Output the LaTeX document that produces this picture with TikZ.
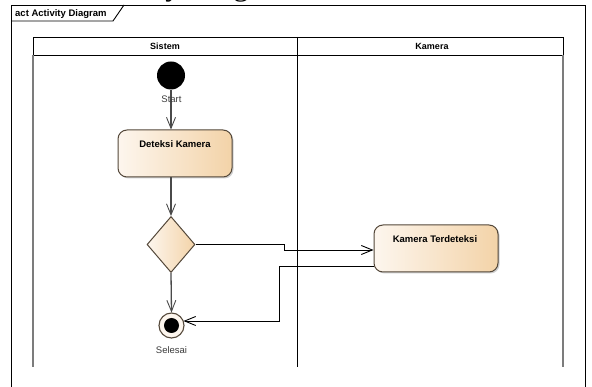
\documentclass[tikz,border=0pt]{standalone}
\usepackage{fontspec}
\setmainfont{Liberation Sans}
\newfontfamily\captionserif{Liberation Serif}
\usetikzlibrary{arrows.meta,shapes.geometric,shadows}

\definecolor{actlight}{HTML}{FDF6EE}
\definecolor{acttan}{HTML}{F3D3A8}
\definecolor{actedge}{HTML}{54483A}
\definecolor{lanegray}{HTML}{7C7C7C}
\definecolor{flowgray}{HTML}{4A4A4A}
\definecolor{labelgray}{HTML}{3C3C3C}

\tikzset{
  uml/.style={font=\fontsize{9.5}{11}\selectfont},
  action/.style={rectangle, rounded corners=9pt, draw=actedge, line width=1pt,
    left color=actlight, right color=acttan, inner sep=0pt,
    drop shadow={shadow xshift=1.5pt, shadow yshift=-1.5pt, opacity=0.3, fill=black!60}},
  actiontext/.style={uml, font=\bfseries\fontsize{9.5}{11}\selectfont, inner sep=0pt},
  decision/.style={diamond, draw=actedge, line width=1pt, left color=actlight,
    right color=acttan, inner sep=0pt, minimum width=48pt, minimum height=56pt},
  startnode/.style={circle, fill=black, inner sep=0pt, minimum size=28pt},
  endring/.style={circle, draw=actedge, line width=1.1pt, fill=actlight, inner sep=0pt,
    minimum size=25pt},
  enddot/.style={circle, fill=black, inner sep=0pt, minimum size=15pt},
  nodelabel/.style={uml, text=labelgray, inner sep=0pt},
  lanehead/.style={font=\bfseries\fontsize{9}{10}\selectfont, inner sep=0pt},
  opentip/.style={-{Straight Barb[length=11pt, width=9pt, line width=0.9pt]}},
  flowv/.style={opentip, draw=flowgray, line width=1.3pt},
  flowx/.style={opentip, draw=black, line width=0.9pt},
}

\begin{document}
\begin{tikzpicture}[x=1pt, y=-1pt]
  \useasboundingbox (0,0) rectangle (592,387);
  \fill[white] (0,0) rectangle (592,387);

  % caption line above the frame, mostly cut off by the page edge
  \node[anchor=base west, inner sep=0pt, font=\captionserif\fontsize{31}{34}\selectfont]
    (caption) at (79,-4) {Activity Diagram};

  % diagram frame and its name tab
  \draw[black, line width=0.9pt] (11,395) -- (11,5) -- (585,5) -- (585,395);
  \draw[black, line width=0.9pt] (11,21) -- (113,21) -- (124,5);
  \node[anchor=base west, font=\bfseries\fontsize{9.5}{11}\selectfont, inner sep=0pt]
    (frametitle) at (15,17) {act Activity Diagram};

  % swimlanes
  \draw[black, line width=0.9pt] (33,37) rectangle (563,55);
  \draw[black, line width=0.9pt] (297.5,37) -- (297.5,367);
  \draw[lanegray, line width=1.6pt] (33,55) -- (33,367);
  \draw[lanegray, line width=1.6pt] (563,55) -- (563,367);
  \node[lanehead] (laneSistem) at (165,46.5) {Sistem};
  \node[lanehead] (laneKamera) at (432,46.5) {Kamera};

  % initial node
  \node[startnode] (start) at (171,75.5) {};

  % actions
  \node[action, minimum width=114pt, minimum height=47pt] (deteksi) at (175,153.5) {};
  \node[actiontext] (deteksiText) at (175,144.5) {Deteksi Kamera};
  \node[action, minimum width=124pt, minimum height=47pt] (kamera) at (436,248.5) {};
  \node[actiontext] (kameraText) at (435,239.5) {Kamera Terdeteksi};

  % decision
  \node[decision] (cek) at (171,244.5) {};

  % final node
  \node[endring] (selesai) at (171.5,325.5) {};
  \node[enddot] (selesaiDot) at (171.5,325.5) {};

  % connectors
  \coordinate (toKamera) at (284,250);
  \coordinate (fromKamera) at (279,266);
  \coordinate (intoFinal) at (183.5,321);
  \draw[flowv] (start.south) -- (start.south |- deteksi.north);
  \node[nodelabel] (startText) at (171.5,99) {Start};
  \draw[flowv] (cek.north |- deteksi.south) -- (cek.north);
  \draw[flowv] (cek.south) -- (selesai.north);
  \draw[flowx] (cek.east) -- (cek.east -| toKamera) -- (toKamera) -- (toKamera -| kamera.west);
  \draw[flowx] (fromKamera -| kamera.west) -- (fromKamera) -- (fromKamera |- intoFinal) -- (intoFinal);
  \node[nodelabel] (selesaiText) at (171.5,350) {Selesai};
\end{tikzpicture}
\end{document}
